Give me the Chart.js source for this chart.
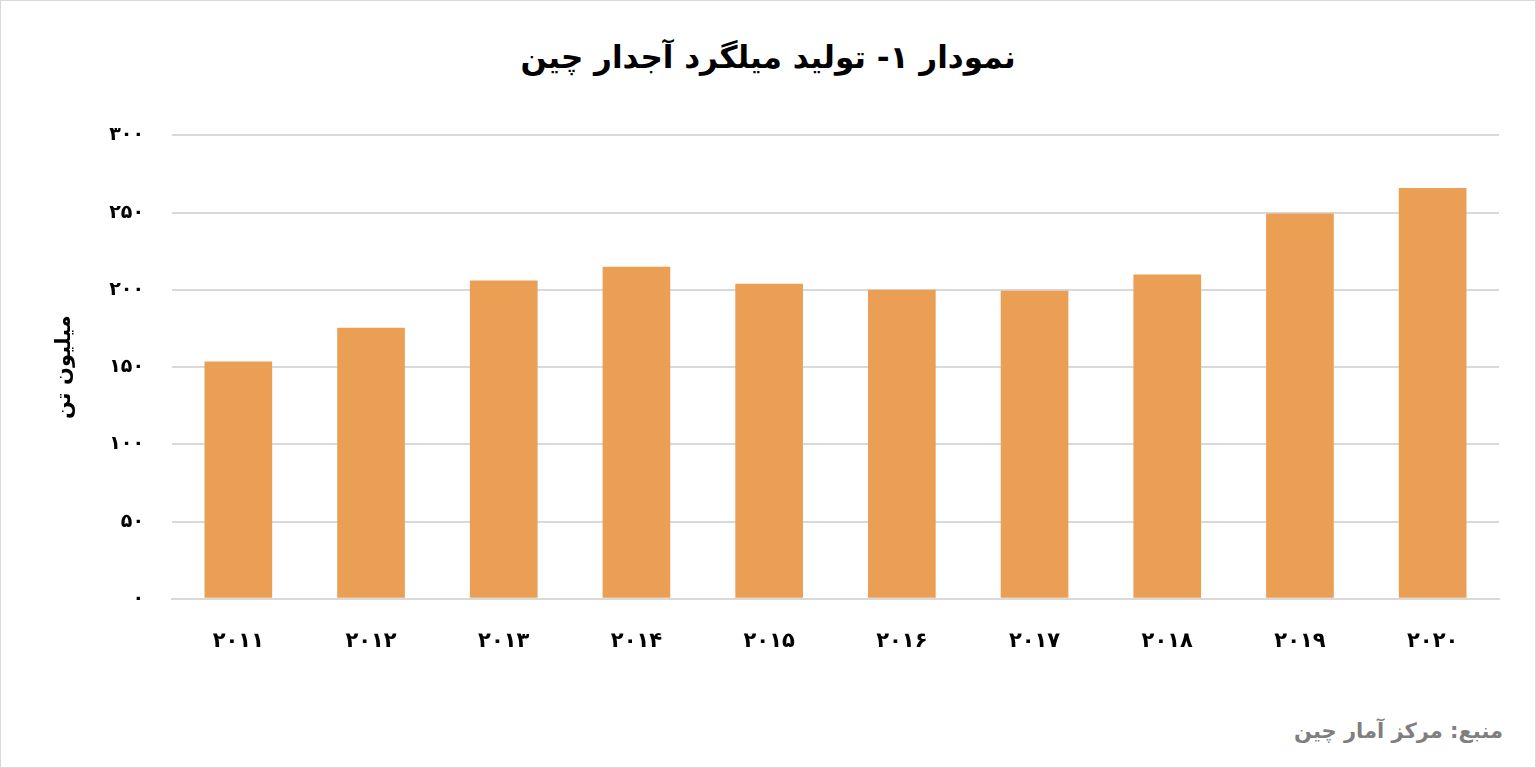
<!DOCTYPE html>
<html lang="fa" dir="rtl">
<head>
<meta charset="utf-8">
<script src="https://cdn.jsdelivr.net/npm/chart.js@4"></script>
<style>
  html, body { margin: 0; padding: 0; background: #fff; }
  #wrap { position: relative; width: 1536px; height: 768px; box-sizing: border-box; border: 1px solid #d9d9d9; }
  #titulo { position: absolute; top: 38px; left: 0; width: 100%; text-align: center;
    font: bold 31px 'DejaVu Sans', sans-serif; color: #000; }
  #fuente { position: absolute; right: 32px; top: 718px; font: bold 21px 'DejaVu Sans', sans-serif; color: #7f7f7f; }
  #lienzo { position: absolute; left: 0; top: 95px; width: 1536px; height: 590px; }
</style>
</head>
<body>
<div id="wrap">
  <div id="titulo">نمودار ۱- تولید میلگرد آجدار چین</div>
  <div id="lienzo"><canvas id="grafico"></canvas></div>
  <div id="fuente">منبع: مرکز آمار چین</div>
</div>
<script>
// ── Datos ─────────────────────────────────────
const anios   = ['۲۰۱۱', '۲۰۱۲', '۲۰۱۳', '۲۰۱۴', '۲۰۱۵', '۲۰۱۶', '۲۰۱۷', '۲۰۱۸', '۲۰۱۹', '۲۰۲۰']
const valores = [153.6, 175.5, 206, 215, 204, 200, 199.5, 210, 249.5, 266]
const ticksY  = { 0: '۰', 50: '۵۰', 100: '۱۰۰', 150: '۱۵۰', 200: '۲۰۰', 250: '۲۵۰', 300: '۳۰۰' }

new Chart(document.getElementById('grafico'), {
  type: 'bar',
  data: {
    labels: anios,
    datasets: [{
      data: valores,
      backgroundColor: '#eb9f54',
      categoryPercentage: 1,
      barPercentage: 0.51
    }]
  },
  options: {
    responsive: true,
    maintainAspectRatio: false,
    animation: false,
    layout: { padding: { left: 47, right: 38, top: 20, bottom: 10 } },
    plugins: { legend: { display: false }, tooltip: { enabled: false } },
    scales: {
      y: {
        min: 0, max: 300,
        ticks: { stepSize: 50, padding: 28, color: '#000',
          font: { size: 19, weight: 'bold', family: 'DejaVu Sans' },
          callback: v => ticksY[v] },
        grid: { color: '#d9d9d9', lineWidth: 2, drawTicks: false },
        border: { display: false },
        title: { display: true, text: 'میلیون تن', color: '#000',
          font: { size: 21, weight: 'bold', family: 'DejaVu Sans' } }
      },
      x: {
        ticks: { color: '#000', padding: 22,
          font: { size: 21, weight: 'bold', family: 'DejaVu Sans' } },
        grid: { display: false },
        border: { color: '#d9d9d9', width: 2 }
      }
    }
  }
})
</script>
</body>
</html>
